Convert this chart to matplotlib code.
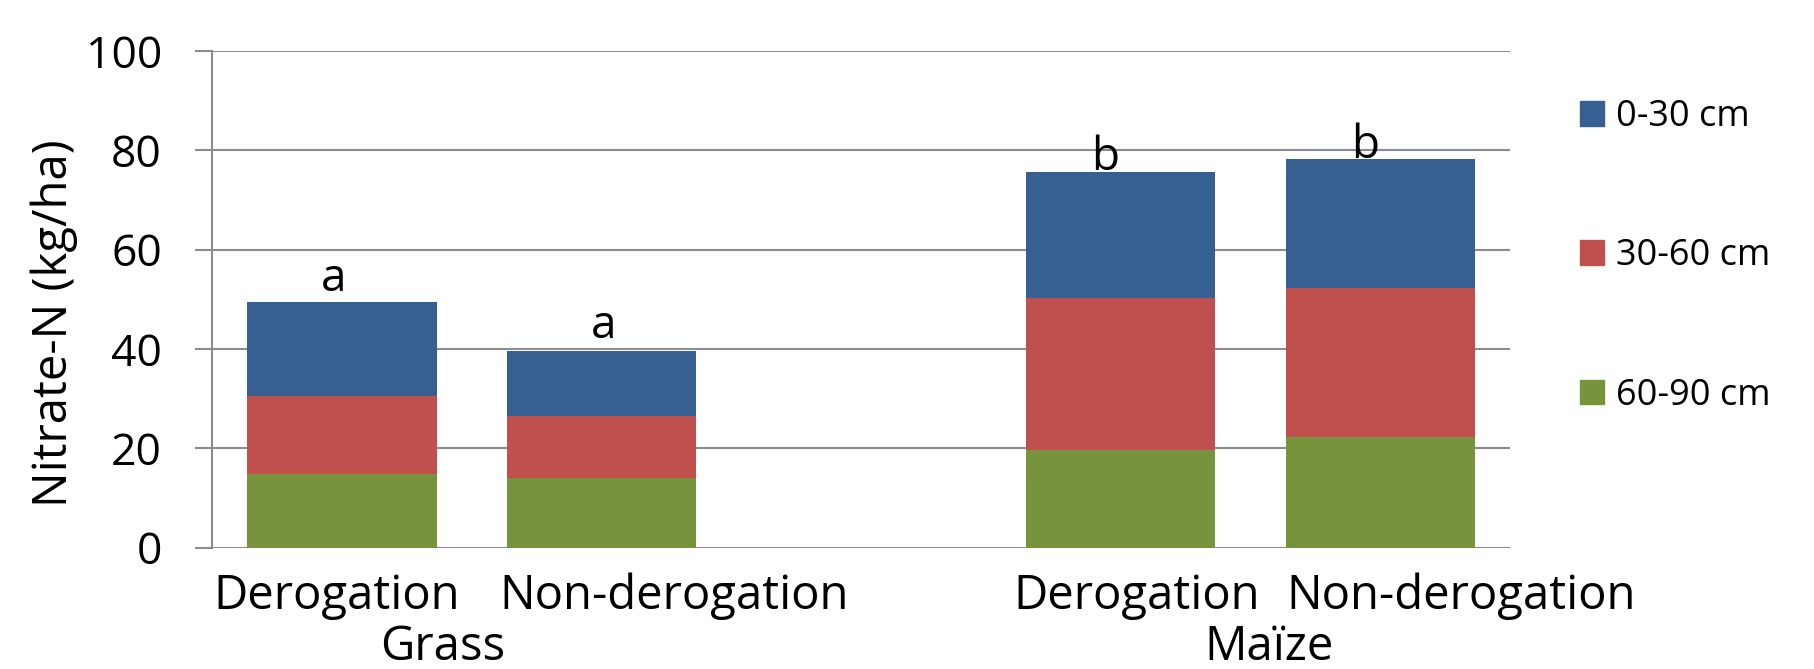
import numpy as np
import matplotlib
matplotlib.use("Agg")
import matplotlib.pyplot as plt
from matplotlib.patches import Patch
from matplotlib.transforms import blended_transform_factory

plt.rcParams['font.family'] = ['Open Sans', 'DejaVu Sans']

# data
bar_labels = ["Derogation", "Non-derogation", "Derogation", "Non-derogation"]
bar_pos = [0, 1, 3, 4]
groups = ["Grass", "Maïze"]

depth_60_90 = [14.8, 14.0, 19.6, 22.3]
depth_30_60 = [15.8, 12.5, 30.6, 30.0]
depth_0_30 = [18.9, 13.1, 25.5, 25.9]
letters = ["a", "a", "b", "b"]

c_blue = "#376092"
c_red = "#C0504D"
c_green = "#77933C"
grid_c = "#8C8C8C"

fig = plt.figure(figsize=(18.15, 6.69), dpi=100)
ax = fig.add_axes([0.1168, 0.1816, 0.832 - 0.1168, 0.9238 - 0.1816])

w = 0.73
ax.bar(bar_pos, depth_60_90, w, color=c_green, zorder=3)
ax.bar(bar_pos, depth_30_60, w, bottom=depth_60_90, color=c_red, zorder=3)
bottom2 = np.array(depth_60_90) + np.array(depth_30_60)
ax.bar(bar_pos, depth_0_30, w, bottom=bottom2, color=c_blue, zorder=3)

# significance letters
totals = bottom2 + np.array(depth_0_30)
gap = [2.2, 2.5, 0.3, 0.3]
dx = [-0.03, 0.01, -0.06, -0.06]
for x, t, l, g, d in zip(bar_pos, totals, letters, gap, dx):
    ax.text(x + d, t + g, l, ha='center', va='baseline', fontsize=33, zorder=4)

ax.set_xlim(-0.5, 4.5)
ax.set_ylim(0, 100)
ax.set_yticks(range(0, 101, 20))
ax.yaxis.grid(True, color=grid_c, lw=1.5, zorder=0)
ax.set_axisbelow(True)

for s in ['top', 'right', 'bottom']:
    ax.spines[s].set_visible(False)
ax.spines['left'].set_color(grid_c)
ax.spines['left'].set_linewidth(1.5)
ax.tick_params(axis='y', length=12, width=1.5, color=grid_c, labelsize=32, pad=24)

# category labels (excel shifted the long ones to the right)
ax.set_xticks(bar_pos)
ax.set_xticklabels([])
ax.tick_params(axis='x', length=0)
trans = blended_transform_factory(ax.transData, ax.transAxes)
shift = [-0.02, 0.28, 0.06, 0.31]
for x, s, lab in zip(bar_pos, shift, bar_labels):
    ax.text(x + s, -0.123, lab, transform=trans, ha='center', va='baseline', fontsize=34)

group_x = [0.39, 3.57]
for gx, g in zip(group_x, groups):
    ax.text(gx, -0.226, g, transform=trans, ha='center', va='baseline', fontsize=34, clip_on=False)

ax.set_ylabel("Nitrate-N (kg/ha)", fontsize=34)
ax.yaxis.set_label_coords(-0.103, 0.451)

handles = [Patch(color=c_blue), Patch(color=c_red), Patch(color=c_green)]
fig.legend(handles, ["0-30 cm", "30-60 cm", "60-90 cm"], loc='upper left',
           bbox_to_anchor=(0.8526, 0.9005), frameon=False, fontsize=26,
           handlelength=0.66, handleheight=0.66, handletextpad=0.35, labelspacing=2.86)

fig.savefig("out.png", dpi=100)
